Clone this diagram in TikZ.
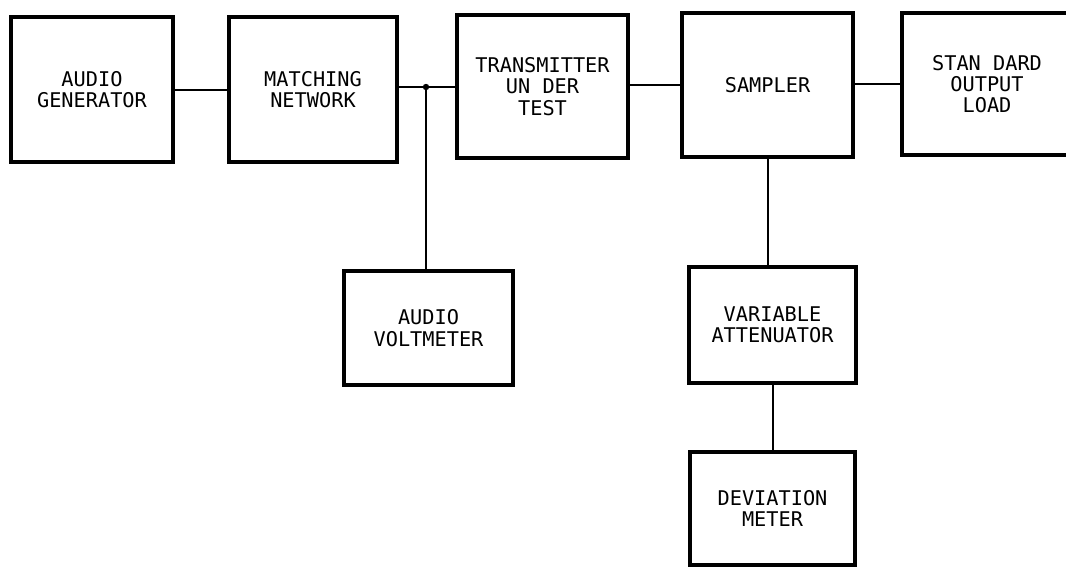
\documentclass[tikz,border=0pt]{standalone}
\usepackage{fontspec}
\setmonofont{DejaVu Sans Mono}
\usetikzlibrary{positioning}

\begin{document}
\begin{tikzpicture}[x=0.75pt,y=-0.75pt,
	blk/.style={draw,line width=2.8pt,align=center,inner sep=0pt,
	font=\ttfamily\fontsize{15.2}{16}\selectfont},
	wire/.style={line width=1.5pt}]
\useasboundingbox (0,0) rectangle (1066,567);
\node [blk, minimum width=0.75*162pt, minimum height=0.75*145pt] (gen) at (92,89.5) {AUDIO\\GENERATOR};
\node [blk, minimum width=0.75*168pt, minimum height=0.75*145pt] (match) at (313,89.5) {MATCHING\\NETWORK};
\node [blk, minimum width=0.75*171pt, minimum height=0.75*143pt] (tx) at (542.5,86.5) {TRANSMITTER\\UN DER\\TEST};
\node [blk, minimum width=0.75*171pt, minimum height=0.75*144pt] (samp) at (767.5,85) {SAMPLER};
\node [blk, minimum width=0.75*170pt, minimum height=0.75*142pt] (load) at (987,84) {STAN DARD\\OUTPUT\\LOAD};
\node [blk, minimum width=0.75*169pt, minimum height=0.75*114pt] (volt) at (428.5,328) {AUDIO\\VOLTMETER};
\node [blk, minimum width=0.75*167pt, minimum height=0.75*116pt] (att) at (772.5,325) {VARIABLE\\ATTENUATOR};
\node [blk, minimum width=0.75*165pt, minimum height=0.75*113pt] (dev) at (772.5,508.5) {DEVIATION\\METER};
\coordinate (j) at (426,87);
\draw [wire] (gen) -- (match);
\draw [wire] (match.east |- j) -- (j) -- (tx.west |- j);
\fill (j) circle (3.2);
\draw [wire] (j) -- (j |- volt.north);
\draw [wire] (tx.east |- samp) -- (samp);
\draw [wire] (samp.east |- load) -- (load);
\draw [wire] (samp.south) -- (samp.south |- att.north);
\draw [wire] (att) -- (dev);
\end{tikzpicture}
\end{document}
